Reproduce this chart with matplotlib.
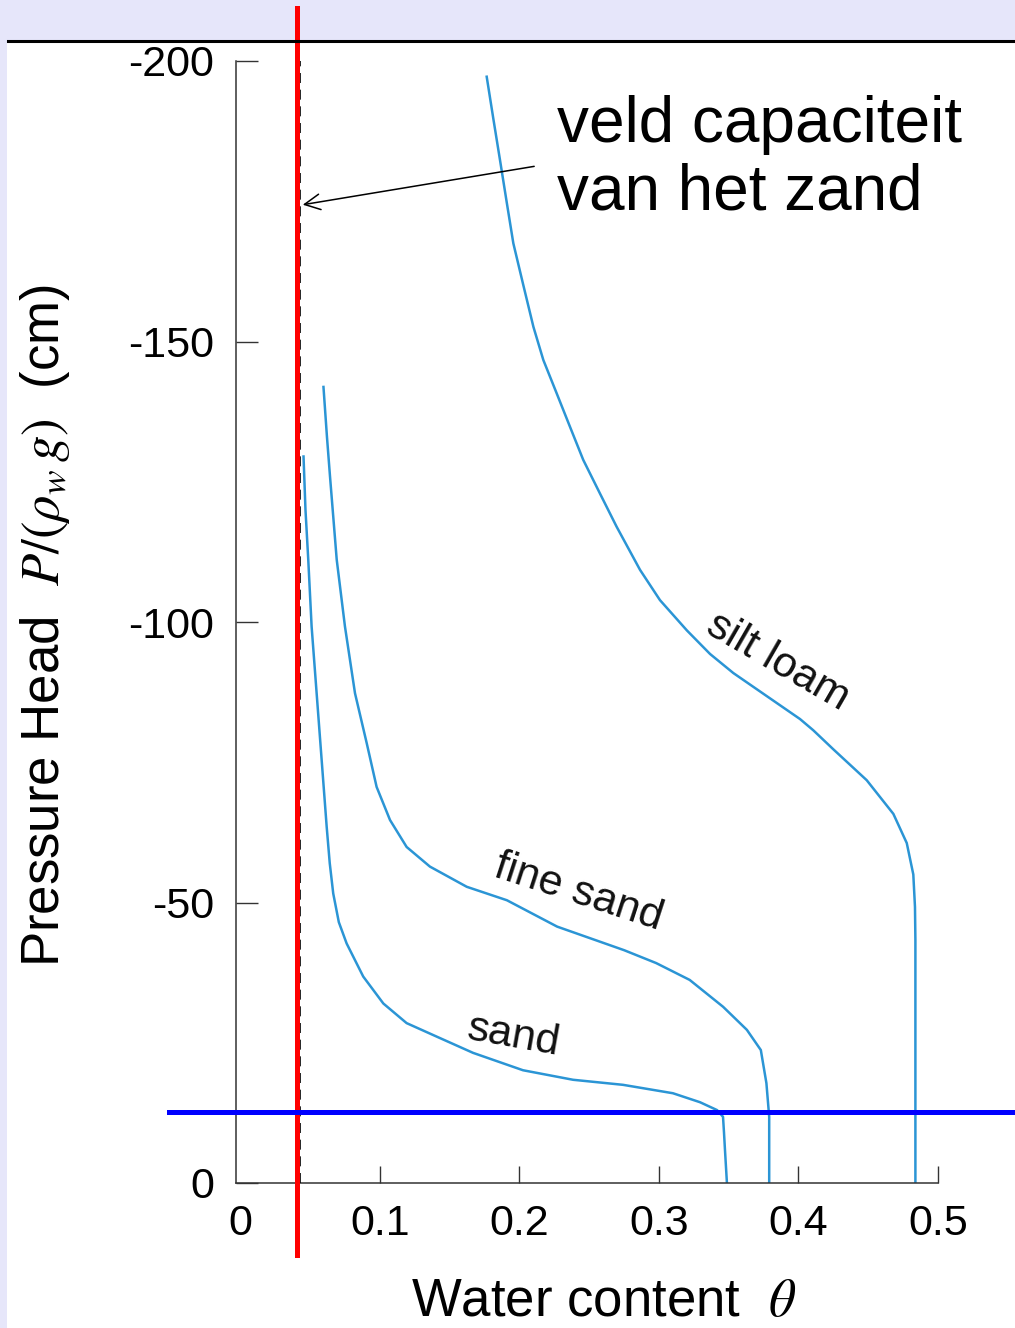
import matplotlib
matplotlib.use("Agg")
import matplotlib.pyplot as plt
from matplotlib.patches import Rectangle
from matplotlib.lines import Line2D

plt.rcParams['font.family'] = ['Liberation Sans', 'DejaVu Sans']
plt.rcParams['mathtext.fontset'] = 'stix'
plt.rcParams['axes.unicode_minus'] = False

# ---- data ----
sand_theta = [0.0452, 0.0466, 0.0486, 0.0510, 0.0546, 0.0582, 0.0618, 0.0640, 0.0665,
              0.0705, 0.0761, 0.0880, 0.1024, 0.1191, 0.1406, 0.1667, 0.2025, 0.2384,
              0.2742, 0.3100, 0.3294, 0.3416, 0.3459, 0.3466, 0.3473, 0.3487]
sand_h = [-129.5, -120.0, -111.1, -99.2, -87.3, -75.4, -63.5, -57.0, -51.6,
          -46.5, -42.7, -36.8, -32.0, -28.5, -26.1, -23.2, -20.1, -18.4,
          -17.5, -16.0, -14.4, -13.0, -11.8, -9.0, -5.9, 0.0]

fine_theta = [0.0595, 0.0620, 0.0642, 0.0690, 0.0749, 0.0821, 0.0905, 0.0976, 0.1072,
              0.1191, 0.1358, 0.1622, 0.1910, 0.2270, 0.2510, 0.2750, 0.2980, 0.3220,
              0.3460, 0.3630, 0.3730, 0.3770, 0.3790, 0.3790]
fine_h = [-141.9, -133.0, -125.9, -111.1, -99.2, -87.3, -78.4, -70.6, -64.7,
          -59.9, -56.4, -52.8, -50.4, -45.7, -43.6, -41.5, -39.2, -36.2,
          -31.4, -27.3, -23.7, -17.8, -11.8, 0.0]

silt_theta = [0.1765, 0.1812, 0.1860, 0.1908, 0.1956, 0.2027, 0.2100, 0.2171, 0.2266,
              0.2362, 0.2457, 0.2577, 0.2696, 0.2864, 0.3007, 0.3200, 0.3366, 0.3533,
              0.3772, 0.4011, 0.4106, 0.4250, 0.4489, 0.4680, 0.4776, 0.4823, 0.4835,
              0.4838, 0.4838]
silt_h = [-197.2, -189.8, -182.4, -174.9, -167.5, -160.1, -152.6, -146.7, -140.8,
          -134.8, -128.9, -122.9, -117.0, -109.3, -103.9, -98.5, -94.3, -90.9,
          -86.8, -82.7, -80.7, -77.3, -71.8, -65.8, -60.6, -55.0, -49.2,
          -43.3, 0.0]

field_capacity_theta = 0.0403   # red line
dashed_theta = 0.0427           # original dashed line
water_table_h = -12.7           # blue line

xticks = [0, 0.1, 0.2, 0.3, 0.4, 0.5]
xticklabels = ['0', '0.1', '0.2', '0.3', '0.4', '0.5']
yticks = [-200, -150, -100, -50, 0]
yticklabels = ['-200', '-150', '-100', '-50', '0']

curve_labels = ['sand', 'fine sand', 'silt loam']
label_pos = [(0.196, -26.1, -10), (0.242, -51.7, -18), (0.3853, -92.9, -30)]

# ---- figure ----
W, H = 1015, 1328
fig = plt.figure(figsize=(W / 100, H / 100), dpi=100, facecolor='#E6E6FA')
fig.patches.append(Rectangle((7 / W, 0), 1 - 7 / W, (H - 42) / H, transform=fig.transFigure,
                             facecolor='white', edgecolor='none', zorder=-10))
fig.add_artist(Line2D([8 / W, 1], [1 - 40.5 / H] * 2, lw=2.2, color='black',
                      transform=fig.transFigure))

ax = fig.add_axes([236 / W, (H - 1183) / H, 702 / W, 1122 / H])
ax.set_facecolor('white')
ax.set_xlim(-0.0032, 0.5)
ax.set_ylim(0, -200)

curve_color = '#2B95D5'
for th, hh in [(sand_theta, sand_h), (fine_theta, fine_h), (silt_theta, silt_h)]:
    ax.plot(th, hh, color=curve_color, lw=1.8, solid_joinstyle='round')

for txt, (x, y, rot) in zip(curve_labels, label_pos):
    ax.text(x, y, txt, rotation=rot, rotation_mode='anchor', ha='center', va='center',
            fontsize=31, color='#111111')

ax.plot([dashed_theta] * 2, [0, -200], color='black', lw=1.2, ls=(0, (6, 4)), zorder=4)
ax.plot([field_capacity_theta] * 2, [12.8, -209.4], color='red', lw=3.6, clip_on=False, zorder=6)
ax.plot([-0.0513, 0.56], [water_table_h] * 2, color='blue', lw=3.6, clip_on=False, zorder=6)

for s in ['top', 'right']:
    ax.spines[s].set_visible(False)
for s in ['left', 'bottom']:
    ax.spines[s].set_color('#333333')
    ax.spines[s].set_linewidth(1.1)

ax.set_xticks(xticks)
ax.set_xticklabels(xticklabels)
ax.set_yticks(yticks)
ax.set_yticklabels(yticklabels)
ax.tick_params(axis='x', direction='in', length=12, width=1, color='#333333',
               labelsize=31, pad=15)
ax.tick_params(axis='y', direction='in', length=16, width=1, color='#333333',
               labelsize=31, pad=16)
ax.xaxis.get_major_ticks()[0].tick1line.set_visible(False)

ax.set_xlabel(r'Water content  $\theta$', fontsize=38)
ax.xaxis.set_label_coords((604 - 236) / 702, (1183 - 1277) / 1122)
ax.set_ylabel(r'Pressure Head  $P/(\rho_w\,g)$  (cm)', fontsize=38)
ax.yaxis.set_label_coords((72 - 236) / 702, 0.497)

ax.annotate('', xy=(0.0427, -174.3), xytext=(0.2125, -181.3),
            arrowprops=dict(arrowstyle='->', color='black', lw=1.1, mutation_scale=28),
            annotation_clip=False)

fig.text(557 / W, 1 - 142 / H, 'veld capaciteit', fontsize=46, va='baseline', ha='left')
fig.text(557 / W, 1 - 209 / H, 'van het zand', fontsize=46, va='baseline', ha='left')

fig.savefig('out.png', dpi=100, facecolor=fig.get_facecolor())
